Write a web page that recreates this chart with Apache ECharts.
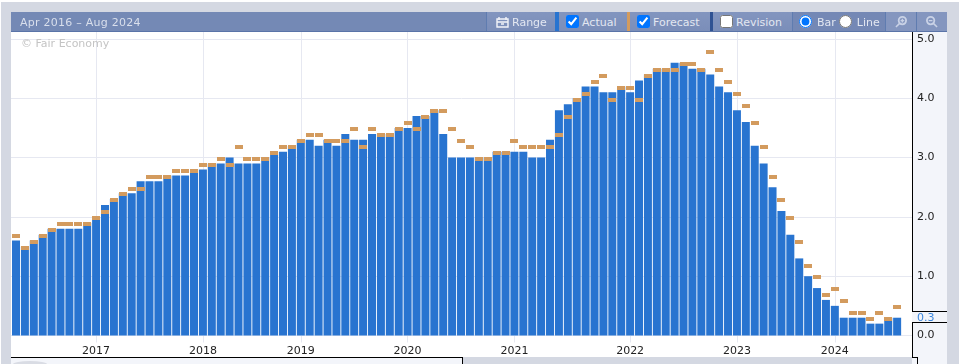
<!DOCTYPE html>
<html>
<head>
<meta charset="utf-8">
<title>Fair Economy</title>
<script src="https://cdn.jsdelivr.net/npm/echarts@6/dist/echarts.min.js"></script>
<style>
  html, body { margin: 0; padding: 0; background: #fff; overflow: hidden; }
  #page { position: relative; width: 959px; height: 364px; overflow: hidden;
    font-family: "DejaVu Sans", sans-serif; }
  .abs { position: absolute; }
  #frame { left: 1px; top: 2px; width: 958px; height: 362px; background: #d4d8e2; }
  #xband { left: 11px; top: 32px; width: 901px; height: 325px; background: #fff; }
  #under { left: 11px; top: 358px; width: 451px; height: 6px; background: #f3f5fa; }
  #smudge { left: 13px; top: 361px; width: 34px; height: 6px; border-radius: 50%; background: #d9dce4; }
  #strip { left: 912px; top: 32px; width: 35px; height: 332px; background: #f3f5fa; }
  #chart { left: 0; top: 0; width: 959px; height: 364px; }
  .ink { background: #000; }
  #bar { left: 11px; top: 12px; width: 936px; height: 19px; background: #7489b5;
    border-bottom: 1px solid #5a74a8; color: #e3e7f1; font-size: 11px; line-height: 21px; }
  #range { position: absolute; left: 9px; top: 0; letter-spacing: .25px; color: #d9dfec; }
  .seg { position: absolute; top: 0; height: 19px; white-space: nowrap; box-sizing: border-box;
    display: flex; align-items: center; background: linear-gradient(#8295bf, #7b8eb9); }
  .seg input { margin: 0 3px 0 0; width: 13px; height: 13px; }
  .seg span { position: relative; top: 1px; }
  .strp { position: absolute; top: 0; height: 19px; width: 3px; }
  .line { position: absolute; top: 0; height: 19px; width: 1px; background: #5f7cb0; }
</style>
</head>
<body>
<div id="page">
  <div class="abs" id="frame"></div>
  <div class="abs" id="xband"></div>
  <div class="abs" id="under"></div>
  <div class="abs" id="smudge"></div>
  <div class="abs" id="strip"></div>
  <div class="abs" id="chart"></div>

  <div class="abs ink" style="left:912px;top:32px;width:1px;height:279px"></div>
  <div class="abs ink" style="left:912px;top:311px;width:35px;height:1px"></div>
  <div class="abs ink" style="left:912px;top:322px;width:35px;height:1px"></div>
  <div class="abs ink" style="left:912px;top:322px;width:1px;height:35px"></div>
  <div class="abs ink" style="left:11px;top:357px;width:451px;height:1px"></div>
  <div class="abs ink" style="left:462px;top:357px;width:1px;height:7px"></div>
  <div class="abs ink" style="left:912px;top:357px;width:5px;height:1px"></div>
  <div class="abs ink" style="left:917px;top:357px;width:1px;height:7px"></div>

  <div class="abs" id="bar">
    <div id="range">Apr 2016 – Aug 2024</div>
    <div class="line" style="left:475px"></div>
    <div class="seg" style="left:476px;width:68px;padding-left:9px">
      <svg width="13" height="12" viewBox="0 0 13 12" style="margin-right:3px"><path d="M1 3h11v8H1zM1 6h11M3 1v3M10 1v3M5 8h3" fill="none" stroke="#f2f4f9" stroke-width="1.4"/></svg>
      <span>Range</span>
    </div>
    <div class="strp" style="left:544px;width:4px;background:#2874d0"></div>
    <div class="seg" style="left:548px;width:68px;padding-left:7px"><input type="checkbox" checked><span>Actual</span></div>
    <div class="strp" style="left:616px;background:#d39b5e"></div>
    <div class="seg" style="left:619px;width:80px;padding-left:7px"><input type="checkbox" checked><span>Forecast</span></div>
    <div class="strp" style="left:699px;background:#2f5293"></div>
    <div class="seg" style="left:702px;width:79px;padding-left:7px"><input type="checkbox"><span>Revision</span></div>
    <div class="line" style="left:781px"></div>
    <div class="seg" style="left:782px;width:92px;padding-left:6px;background:#7488b5">
      <input type="radio" name="kind" checked><span style="margin:0 3px 0 2px">Bar</span>
      <input type="radio" name="kind"><span style="margin-left:2px">Line</span>
    </div>
    <div class="line" style="left:874px"></div>
    <div class="seg" style="left:875px;width:30px;justify-content:center;background:#8496bf">
      <svg width="12" height="12" viewBox="0 0 13 13"><circle cx="8" cy="5" r="4" fill="none" stroke="#c9d2e6" stroke-width="2"/><path d="M5 8l-4 4M6 5h4M8 3v4" stroke="#c9d2e6" stroke-width="1.6"/></svg>
    </div>
    <div class="line" style="left:905px"></div>
    <div class="seg" style="left:906px;width:30px;justify-content:center;background:#8496bf">
      <svg width="12" height="12" viewBox="0 0 13 13"><circle cx="5" cy="5" r="4" fill="none" stroke="#c9d2e6" stroke-width="2"/><path d="M8 8l4 4M3 5h4" stroke="#c9d2e6" stroke-width="1.6"/></svg>
    </div>
  </div>
</div>

<script>
// values, one per month bar
var actual = [
  1.6, 1.5, 1.6, 1.7, 1.8, 1.8, 1.8, 1.8, 1.9, 2.0,
  2.2, 2.3, 2.4, 2.4, 2.6, 2.6, 2.6, 2.7, 2.7, 2.7,
  2.8, 2.8, 2.9, 2.9, 3.0, 2.9, 2.9, 2.9, 3.0, 3.1,
  3.1, 3.2, 3.3, 3.3, 3.2, 3.3, 3.2, 3.4, 3.3, 3.3,
  3.4, 3.4, 3.4, 3.5, 3.5, 3.7, 3.7, 3.8, 3.4, 3.0,
  3.0, 3.0, 3.0, 3.0, 3.1, 3.1, 3.1, 3.1, 3.0, 3.0,
  3.3, 3.8, 3.9, 4.0, 4.2, 4.2, 4.1, 4.1, 4.2, 4.1,
  4.3, 4.4, 4.5, 4.5, 4.6, 4.6, 4.5, 4.5, 4.4, 4.2,
  4.1, 3.8, 3.6, 3.2, 2.9, 2.5, 2.1, 1.7, 1.3, 1.0,
  0.8, 0.6, 0.5, 0.3, 0.3, 0.3, 0.2, 0.2, 0.3, 0.3
];
var forecast = [
  1.7, 1.5, 1.6, 1.7, 1.8, 1.9, 1.9, 1.9, 1.9, 2.0,
  2.1, 2.3, 2.4, 2.5, 2.5, 2.7, 2.7, 2.7, 2.8, 2.8,
  2.8, 2.9, 2.9, 3.0, 2.9, 3.2, 3.0, 3.0, 3.0, 3.1,
  3.2, 3.2, 3.3, 3.4, 3.4, 3.3, 3.3, 3.3, 3.5, 3.2,
  3.5, 3.4, 3.4, 3.5, 3.6, 3.5, 3.7, 3.8, 3.8, 3.5,
  3.3, 3.2, 3.0, 3.0, 3.1, 3.1, 3.3, 3.2, 3.2, 3.2,
  3.2, 3.4, 3.7, 4.0, 4.1, 4.3, 4.4, 4.0, 4.2, 4.2,
  4.0, 4.4, 4.5, 4.5, 4.5, 4.6, 4.6, 4.5, 4.8, 4.5,
  4.3, 4.1, 3.9, 3.6, 3.2, 2.7, 2.3, 2.0, 1.6, 1.2,
  1.0, 0.7, 0.8, 0.6, 0.4, 0.4, 0.3, 0.4, 0.3, 0.5
];
// which bar each year tick sits under
var yearBars = [9, 21, 32, 44, 56, 69, 81, 92];
var yearLabels = ["2017", "2018", "2019", "2020", "2021", "2022", "2023", "2024"];
var yTicks = [0, 1, 2, 3, 4, 5];

var latest = actual[actual.length - 1];
var chart = echarts.init(document.getElementById("chart"), null, { renderer: "canvas" });

chart.setOption({
  backgroundColor: "rgba(0,0,0,0)",
  animation: false,
  title: {
    text: "© Fair Economy",
    left: 21,
    top: 39,
    padding: 0,
    textStyle: { color: "#c4c4c4", fontSize: 11, fontWeight: "normal", fontFamily: "DejaVu Sans" }
  },
  grid: { left: 11, right: 47, top: 32, bottom: 28.5 },
  xAxis: {
    type: "value",
    min: -0.562,
    max: 100.67,
    axisLine: { show: false },
    axisTick: { show: true, length: 7, customValues: yearBars, lineStyle: { color: "#e6e8f1" } },
    splitLine: { show: true, lineStyle: { color: "#e6e8f1", width: 1 } },
    axisLabel: {
      customValues: yearBars,
      margin: 10,
      color: "#222",
      fontSize: 11,
      fontFamily: "DejaVu Sans",
      formatter: function (v) { return yearLabels[yearBars.indexOf(v)]; }
    }
  },
  yAxis: {
    type: "value",
    position: "right",
    min: 0,
    max: 5.118,
    axisLine: { show: false },
    axisTick: { show: false, customValues: yTicks },
    splitLine: { show: true, lineStyle: { color: "#e6e8f1", width: 1 } },
    axisLabel: {
      customValues: [0, latest, 1, 2, 3, 4, 5],
      margin: 5,
      padding: [3, 0, 0, 0],
      fontSize: 11,
      fontFamily: "DejaVu Sans",
      verticalAlignMinLabel: "middle",
      verticalAlignMaxLabel: "middle",
      color: function (v) { return Number(v) === latest ? "#3b86dc" : "#222"; },
      formatter: function (v) { return v.toFixed(1); }
    }
  },
  series: [
    {
      name: "Actual",
      type: "bar",
      barWidth: 8,
      itemStyle: { color: "#2874d0" },
      data: actual.map(function (v, i) { return [i, v]; })
    },
    {
      name: "Forecast",
      type: "custom",
      z: 3,
      encode: { x: 0, y: 1 },
      // flat dash hanging from the forecast value, snapped to whole pixels
      renderItem: function (params, api) {
        var c = api.coord([api.value(0), api.value(1)]);
        return {
          type: "rect",
          shape: { x: Math.round(c[0] - 4), y: Math.floor(c[1] - 0.2), width: 8, height: 4 },
          style: { fill: "#d39b5e" }
        };
      },
      data: forecast.map(function (v, i) { return [i, v]; })
    }
  ]
});
</script>
</body>
</html>
